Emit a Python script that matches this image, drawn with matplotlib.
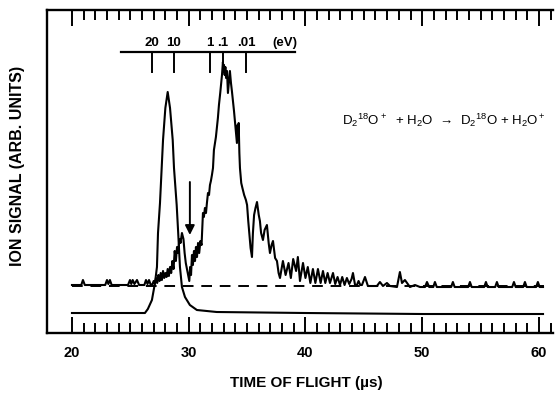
# -*- coding: utf-8 -*-

"""Time-of-flight spectrum for the D2(18)O+ + H2O charge transfer."""

import matplotlib

matplotlib.use("Agg")
import matplotlib.pyplot as plt  # noqa: E402
from matplotlib.ticker import FixedLocator, NullFormatter  # noqa: E402

plt.rcParams["font.family"] = ["Liberation Sans", "DejaVu Sans"]
plt.rcParams["mathtext.fontset"] = "custom"
plt.rcParams["mathtext.rm"] = "Liberation Sans"
plt.rcParams["mathtext.default"] = "rm"

# product ion signal (noisy trace)
tof_ion = [
    20.0, 20.8, 20.94, 21.1, 22.85, 23.0, 23.12, 23.25, 23.4, 24.8, 24.97,
    25.08, 25.2, 25.35, 25.57, 25.75, 26.2, 26.34, 26.47, 26.6, 26.75,
    26.9, 27.0, 27.1, 27.2, 27.3, 27.4, 27.5, 27.6, 27.7, 27.8,
    27.9, 28.0, 28.1, 28.2, 28.3, 28.4, 28.5, 28.6, 28.7, 28.8,
    28.9, 29.0, 29.1, 29.2, 29.3, 29.42, 29.55, 29.65, 29.75, 29.85,
    29.95, 30.05, 30.12, 30.2, 30.28, 30.36, 30.45, 30.54, 30.62, 30.71,
    30.8, 30.9, 31.0, 31.1, 31.16, 31.22, 31.3, 31.39, 31.48, 31.56,
    31.65, 31.74, 31.82, 31.9, 31.99, 32.08, 32.16, 32.25, 32.33, 32.42,
    32.5, 32.59, 32.7, 32.78, 32.85, 32.93, 32.98, 33.02, 33.08, 33.14,
    33.2, 33.28, 33.36, 33.45, 33.53, 33.62, 33.7, 33.79, 33.88, 33.96,
    34.05, 34.13, 34.18, 34.22, 34.28, 34.34, 34.39, 34.5, 34.6, 34.75,
    34.9, 35.0, 35.1, 35.2, 35.3, 35.42, 35.5, 35.6, 35.72, 35.85,
    36.0, 36.1, 36.2, 36.36, 36.5, 36.7, 36.85, 36.96, 37.1, 37.22,
    37.4, 37.56, 37.7, 37.82, 38.07, 38.3, 38.55, 38.75, 38.95, 39.2,
    39.35, 39.53, 39.79, 40.0, 40.2, 40.42, 40.64, 40.85, 41.07, 41.3,
    41.5, 41.7, 41.9, 42.1, 42.36, 42.55, 42.75, 42.96, 43.15, 43.35,
    43.55, 43.75, 43.95, 44.07, 44.25, 44.41, 44.55, 44.7, 44.84, 45.10,
    45.35, 46.12, 46.38, 46.64, 46.98, 47.24, 47.84, 48.09, 48.27, 48.52,
    48.95, 49.38, 49.81, 50.24, 50.41, 50.6, 50.95, 51.09, 51.25, 52.48,
    52.63, 52.78, 53.94, 54.09, 54.24, 55.31, 55.46, 55.61, 56.25, 56.40,
    56.55, 57.71, 57.86, 58.01, 58.65, 58.80, 58.95, 59.76, 59.91, 60.06,
    60.35,
]
sig_ion = [
    48, 48, 53, 48, 48, 53, 49, 53, 48, 48, 53,
    49, 53, 49, 53, 48, 48, 53, 49, 53, 48,
    49, 52, 49, 55, 50, 58, 52, 60, 53, 62,
    55, 60, 56, 64, 57, 66, 60, 72, 64, 82,
    72, 86, 80, 94, 90, 100, 94, 80, 70, 64,
    58, 52, 66, 58, 78, 68, 82, 72, 86, 76,
    90, 80, 92, 88, 104, 120, 116, 125, 120, 130,
    140, 138, 148, 152, 158, 165, 183, 190, 196, 206,
    215, 228, 240, 250, 258, 271, 262, 268, 258, 266,
    255, 262, 240, 252, 262, 250, 242, 232, 222, 212,
    200, 190, 208, 196, 210, 180, 165, 150, 145, 138,
    133, 128, 112, 98, 85, 76, 100, 118, 125, 131,
    118, 112, 100, 93, 103, 108, 90, 80, 88, 92,
    75, 72, 60, 55, 72, 58, 70, 55, 74, 62,
    76, 52, 70, 55, 66, 50, 64, 50, 64, 50,
    62, 50, 60, 50, 60, 49, 56, 48, 56, 48,
    55, 49, 54, 60, 48, 48, 52, 48, 48, 56,
    47, 47, 51, 47, 50, 47, 46, 61, 50, 53,
    46, 48, 46, 46, 51, 46, 46, 51, 46, 46,
    51, 46, 46, 51, 46, 46, 51, 46, 46, 51,
    46, 46, 51, 46, 46, 51, 46, 46, 51, 46,
    46,
]

# reactant beam profile (smooth trace)
tof_beam = [
    20.0, 26.25, 26.5, 26.85, 27.11, 27.28, 27.37, 27.54, 27.8, 28.0,
    28.2, 28.4, 28.63, 28.74, 28.97, 29.1, 29.25, 29.42, 29.68, 30.1,
    30.7, 32.4, 40.0, 50.0, 60.35,
]
sig_beam = [
    20, 20, 24, 33, 50, 66, 100, 130, 193, 225,
    241, 225, 193, 165, 128, 100, 66, 46, 36, 28,
    23, 21, 20, 19, 19,
]

baseline_level = 47
baseline_span = [20.0, 60.4]

# energy scale drawn inside the frame
energy_labels = ["20", "10", "1", ".1", ".01"]
energy_tof = [26.85, 28.74, 31.82, 32.93, 34.9]
energy_span = [24.2, 39.1]
arrow_tof = 30.1

fig = plt.figure(figsize=(5.56, 3.98), dpi=100)
ax = fig.add_axes([0.0845, 0.1633, 0.910, 0.8116])

ax.plot(baseline_span, [baseline_level] * 2, color="black", linewidth=1.4,
        dashes=(5.5, 4.0))
ax.plot(tof_beam, sig_beam, color="black", linewidth=1.5)
ax.plot(tof_ion, sig_ion, color="black", linewidth=1.5)

# energy axis
ax.plot(energy_span, [281, 281], color="black", linewidth=1.6)
for t, lab in zip(energy_tof, energy_labels):
    ax.plot([t, t], [281, 261], color="black", linewidth=1.4)
    ax.text(t, 290, lab, ha="center", va="center", fontsize=9.5,
            fontweight="bold")
ax.text(38.24, 290, "(eV)", ha="center", va="center", fontsize=9.5,
        fontweight="bold")

# onset marker
ax.annotate("", xy=(arrow_tof, 98), xytext=(arrow_tof, 151),
            arrowprops=dict(arrowstyle="-|>", color="black", lw=1.4,
                            mutation_scale=14, shrinkA=0, shrinkB=0))

ax.text(43.1, 213, r"D$_2{}^{18}$O$^+$  + H$_2$O  →  D$_2{}^{18}$O + H$_2$O$^+$",
        ha="left", va="center", fontsize=9.5)

ax.set_xlim(17.86, 61.2)
ax.set_ylim(0, 323)

ax.xaxis.set_major_locator(FixedLocator([20, 30, 40, 50, 60]))
ax.xaxis.set_minor_locator(FixedLocator(list(range(20, 62))))
ax.xaxis.set_minor_formatter(NullFormatter())
ax.tick_params(axis="x", which="both", direction="in", top=True, bottom=True,
               width=1.4, pad=9, labelsize=10.5)
ax.tick_params(axis="x", which="major", length=11.5)
ax.tick_params(axis="x", which="minor", length=7.5)
for lab in ax.get_xticklabels():
    lab.set_fontweight("bold")
ax.set_yticks([])

for side in ("left", "top", "bottom"):
    ax.spines[side].set_linewidth(1.7)
ax.spines["right"].set_visible(False)

fig.text(306 / 556, 1 - 383 / 398, "TIME OF FLIGHT (\u00b5s)", ha="center",
         va="center", fontsize=11, fontweight="bold")
fig.text(18 / 556, 1 - 166 / 398, "ION SIGNAL (ARB. UNITS)", ha="center",
         va="center", rotation=90, fontsize=11.5, fontweight="bold")

fig.savefig("out.png", dpi=100)
